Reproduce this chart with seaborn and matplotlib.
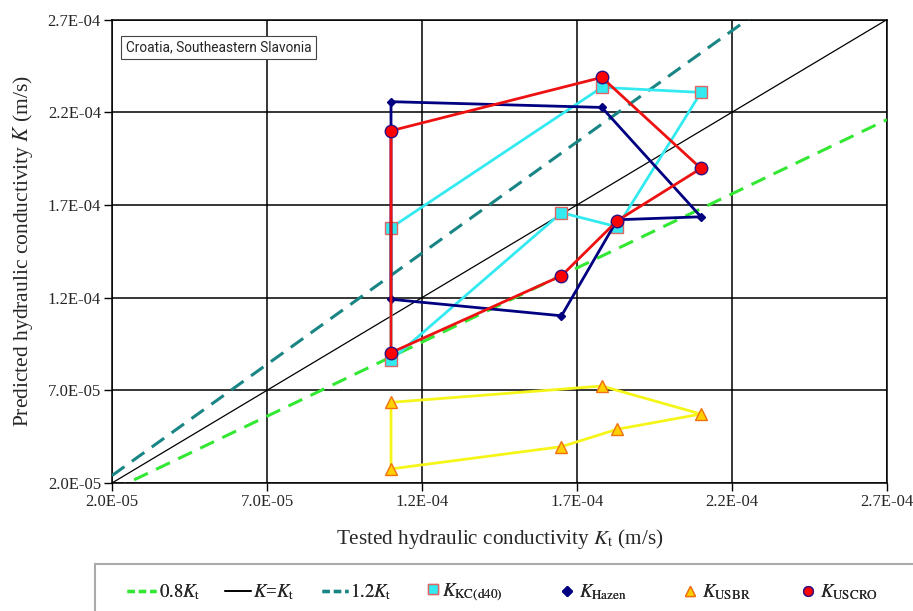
import numpy as np
import pandas as pd
import matplotlib
matplotlib.use("Agg")
import matplotlib.pyplot as plt
from matplotlib.lines import Line2D
from matplotlib.patches import Rectangle
import seaborn as sns

# ---- data ----
kt = [1.10e-4, 1.78e-4, 2.10e-4, 1.83e-4, 1.65e-4, 1.10e-4]
k_kc = [1.577e-4, 2.334e-4, 2.307e-4, 1.582e-4, 1.658e-4, 8.63e-5]
k_hazen = [2.257e-4, 2.226e-4, 1.636e-4, 1.620e-4, 1.102e-4, 1.191e-4]
k_usbr = [6.35e-5, 7.23e-5, 5.72e-5, 4.90e-5, 3.96e-5, 2.76e-5]
k_uscro = [2.100e-4, 2.388e-4, 1.897e-4, 1.615e-4, 1.318e-4, 9.03e-5]
ticks = [2.0e-5, 7.0e-5, 1.2e-4, 1.7e-4, 2.2e-4, 2.7e-4]
ref_x = [2.0e-5, 2.7e-4]
ref_factors = [0.8, 1.0, 1.2]

sns.set_style("white")
plt.rcParams["font.family"] = ["Liberation Serif", "DejaVu Serif"]
plt.rcParams["mathtext.fontset"] = "stix"

W, H = 913, 611
fig = plt.figure(figsize=(W / 100, H / 100), dpi=100)
ax = fig.add_axes([0.1227, 0.2095, 0.8488, 0.7585])

# reference lines
ref_styles = [
    dict(color="#33e833", lw=2.2, ls=(0, (5, 3))),
    dict(color="black", lw=0.9, ls="-"),
    dict(color="#1a8585", lw=2.2, ls=(0, (5, 3))),
]
for f, st in zip(ref_factors, ref_styles):
    df = pd.DataFrame({"x": ref_x, "y": [f * v for v in ref_x]})
    sns.lineplot(data=df, x="x", y="y", ax=ax, color=st["color"], lw=st["lw"],
                 linestyle=st["ls"], zorder=3)

def closed(a):
    return list(a) + [a[0]]

series = [
    (k_kc, "#33eaf0", "s", 8, "#33eaf0", "#e06666", 1.0),
    (k_hazen, "#000080", "D", 4.5, "#000080", "#000080", 1.0),
    (k_usbr, "#f5f51a", "^", 8, "#ffd000", "#f07010", 1.0),
    (k_uscro, "#ee1111", "o", 9, "#ff0000", "#301080", 1.0),
]
for z, (vals, lc, mk, ms, mfc, mec, mew) in enumerate(series):
    df = pd.DataFrame({"x": closed(kt), "y": closed(vals)})
    sns.lineplot(data=df, x="x", y="y", ax=ax, sort=False, estimator=None,
                 color=lc, lw=2.0, zorder=4 + z)
    sdf = pd.DataFrame({"x": kt, "y": vals})
    ax.plot(sdf["x"], sdf["y"], ls="none", marker=mk, ms=ms, mfc=mfc, mec=mec,
            mew=mew, zorder=4 + z)

ax.set_xlim(ticks[0], ticks[-1])
ax.set_ylim(ticks[0], ticks[-1])
ax.set_xticks(ticks)
ax.set_yticks(ticks)
ax.set_xticklabels([f"{t:.1E}" for t in ticks], fontsize=12)
ax.set_yticklabels([f"{t:.1E}" for t in ticks], fontsize=12)
ax.tick_params(axis="both", direction="out", length=6, width=1, color="black",
               pad=2, left=True, bottom=True)
ax.grid(True, color="black", lw=1.1)
ax.set_axisbelow(True)
for s in ax.spines.values():
    s.set_color("black")
    s.set_linewidth(1.1)

ax.set_xlabel(r"Tested hydraulic conductivity $K_\mathrm{t}$ (m/s)", fontsize=15.2, labelpad=12)
ax.set_ylabel(r"Predicted hydraulic conductivity $K$ (m/s)", fontsize=15.5, labelpad=9)

ax.text(0.0175, 0.955, "Croatia, Southeastern Slavonia", transform=ax.transAxes,
        fontsize=9.8, family=["Roboto", "DejaVu Sans"],
        va="top", ha="left", zorder=10,
        bbox=dict(boxstyle="square,pad=0.35", fc="white", ec="#444444", lw=0.8))

# legend frame
fig.add_artist(Rectangle((95 / W, -0.05), 1.0, (H - 564) / H + 0.05,
                         transform=fig.transFigure, fc="white", ec="#aaaaaa",
                         lw=1.5, zorder=0))

yc = 1 - 592 / H
legend_entries = [
    (Line2D([], [], color="#33e833", lw=2.4, ls=(0, (2.2, 1.2))), r"$0.8K_\mathrm{t}$", 127, 1.55, 0.15),
    (Line2D([], [], color="black", lw=1.2), r"$K$=$K_\mathrm{t}$", 225, 1.4, 0.1),
    (Line2D([], [], color="#1a8585", lw=2.4, ls=(0, (2.2, 1.2))), r"$1.2K_\mathrm{t}$", 322, 1.4, 0.1),
    (Line2D([], [], ls="none", marker="s", ms=7, mfc="#33eaf0", mec="#e06666"), r"$K_\mathrm{KC(d40)}$", 427, 0.6, 0.2),
    (Line2D([], [], ls="none", marker="D", ms=5, mfc="#000080", mec="#000080"), r"$K_\mathrm{Hazen}$", 559, 0.8, 0.25),
    (Line2D([], [], ls="none", marker="^", ms=7, mfc="#ffd000", mec="#f07010"), r"$K_\mathrm{USBR}$", 682, 0.8, 0.25),
    (Line2D([], [], ls="none", marker="o", ms=7, mfc="#ff0000", mec="#301080"), r"$K_\mathrm{USCRO}$", 800, 0.8, 0.25),
]
for h, lab, x0, hl, tp in legend_entries:
    lg = fig.legend([h], [lab], loc="center left", bbox_to_anchor=(x0 / W, yc),
                    fontsize=13.5, frameon=False, handlelength=hl,
                    handletextpad=tp, borderaxespad=0.0, borderpad=0.0)
    fig.add_artist(lg)

fig.savefig("out.png", dpi=100)
